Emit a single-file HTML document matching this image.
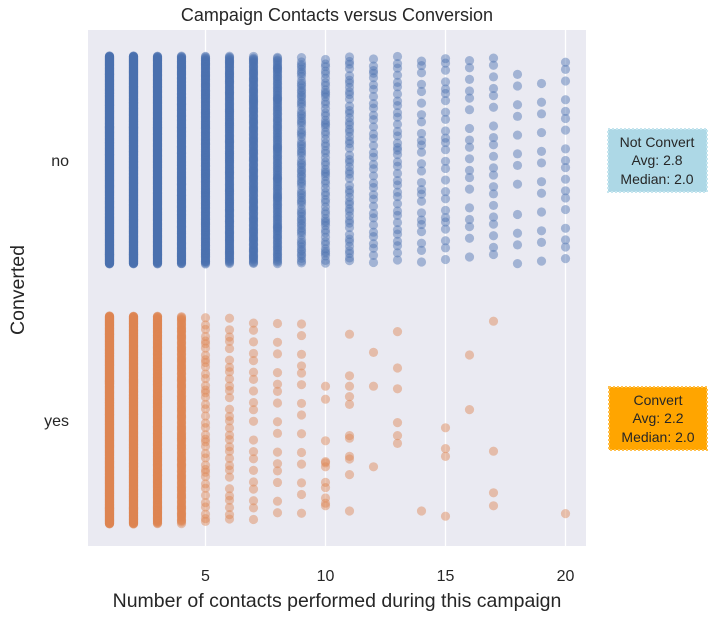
<!DOCTYPE html>
<html><head><meta charset="utf-8"><style>
body{margin:0;background:#fff;width:714px;height:616px;overflow:hidden;font-family:"Liberation Sans","DejaVu Sans",sans-serif}
</style></head><body>
<svg width="714" height="616" xmlns="http://www.w3.org/2000/svg">
<rect x="88" y="30" width="498" height="516" fill="#eaeaf2"/>
<g id="grid"></g>
<g id="points"></g>
<g id="ticks" font-size="16" fill="#262626"></g>
<text x="337" y="21" text-anchor="middle" font-size="18" fill="#262626">Campaign Contacts versus Conversion</text>
<text x="337" y="607" text-anchor="middle" font-size="19.5" fill="#262626">Number of contacts performed during this campaign</text>
<text transform="translate(24,290) rotate(-90)" text-anchor="middle" font-size="19.5" fill="#262626">Converted</text>
<g>
<rect x="608" y="129" width="99" height="63" fill="#add8e6" stroke="#c6e6ef" stroke-width="2" stroke-dasharray="2,2"/>
<text x="657" y="147" text-anchor="middle" font-size="14" fill="#262626">Not Convert</text>
<text x="657" y="165" text-anchor="middle" font-size="14" fill="#262626">Avg: 2.8</text>
<text x="657" y="184" text-anchor="middle" font-size="14" fill="#262626">Median: 2.0</text>
</g>
<g>
<rect x="609" y="387" width="98" height="63" fill="#ffa500" stroke="#ffc04d" stroke-width="2" stroke-dasharray="2,2"/>
<text x="658" y="405" text-anchor="middle" font-size="14" fill="#262626">Convert</text>
<text x="658" y="423" text-anchor="middle" font-size="14" fill="#262626">Avg: 2.2</text>
<text x="658" y="442" text-anchor="middle" font-size="14" fill="#262626">Median: 2.0</text>
</g>
</svg>
<script>
const categories = ['no','yes'];
const contactValues = [1,2,3,4,5,6,7,8,9,10,11,12,13,14,15,16,17,18,19,20];
const noCounts = [1000,1000,600,400,300,250,200,150,80,60,50,35,35,25,25,18,20,12,12,18];
const yesCounts = [1000,800,400,200,40,30,20,15,14,0,0,0,0,0,0,0,0,0,0,0];
// explicit jitter offsets (category units) for sparse "yes" columns
const yesSparse = {
 10:[-0.13,-0.08,0.08,0.16,0.165,0.18,0.24,0.26,0.30,0.32,0.33],
 11:[-0.33,-0.17,-0.13,-0.09,-0.06,0.06,0.07,0.14,0.15,0.21,0.35],
 12:[-0.26,-0.13,0.18],
 13:[-0.34,-0.20,-0.12,0.01,0.06,0.09],
 14:[0.35],
 15:[0.03,0.11,0.14,0.37],
 16:[-0.25,-0.04],
 17:[-0.38,0.12,0.28,0.33],
 20:[0.36]
};
const xTicks = [5,10,15,20];
const X = v => 85.5 + v*24;
const Y = c => 160 + categories.indexOf(c)*260;
const ns="http://www.w3.org/2000/svg";
const grid=document.getElementById('grid'), pts=document.getElementById('points'), tk=document.getElementById('ticks');
xTicks.forEach(t=>{
 const l=document.createElementNS(ns,'line');
 l.setAttribute('x1',X(t));l.setAttribute('x2',X(t));l.setAttribute('y1',30);l.setAttribute('y2',546);
 l.setAttribute('stroke','#fff');l.setAttribute('stroke-width','1.3');
 
 
 grid.appendChild(l);
 const tx=document.createElementNS(ns,'text');
 tx.setAttribute('x',X(t));tx.setAttribute('y',581);tx.setAttribute('text-anchor','middle');tx.textContent=t;
 
 
 tk.appendChild(tx);
});
categories.forEach(c=>{
 const tx=document.createElementNS(ns,'text');
 tx.setAttribute('x',69);tx.setAttribute('y',Y(c)+6);tx.setAttribute('text-anchor','end');tx.textContent=c;
 
 
 tk.appendChild(tx);
});
function dot(v,c,off,color){
 const e=document.createElementNS(ns,'circle');
 e.setAttribute('cx',X(v));e.setAttribute('cy',Y(c)+off*260);e.setAttribute('r',4.6);
 e.setAttribute('fill',color);e.setAttribute('fill-opacity','0.45');
 
 
 pts.appendChild(e);
}
const phi=0.6180339887;
contactValues.forEach((v,i)=>{
 for(let k=0;k<noCounts[i];k++){dot(v,'no',((k*phi+i*0.37)%1)*0.8-0.4,'#4c72b0');}
 for(let k=0;k<yesCounts[i];k++){dot(v,'yes',((k*phi+i*0.53)%1)*0.8-0.4,'#dd8452');}
 (yesSparse[v]||[]).forEach(o=>dot(v,'yes',o,'#dd8452'));
});
</script>
</body></html>
